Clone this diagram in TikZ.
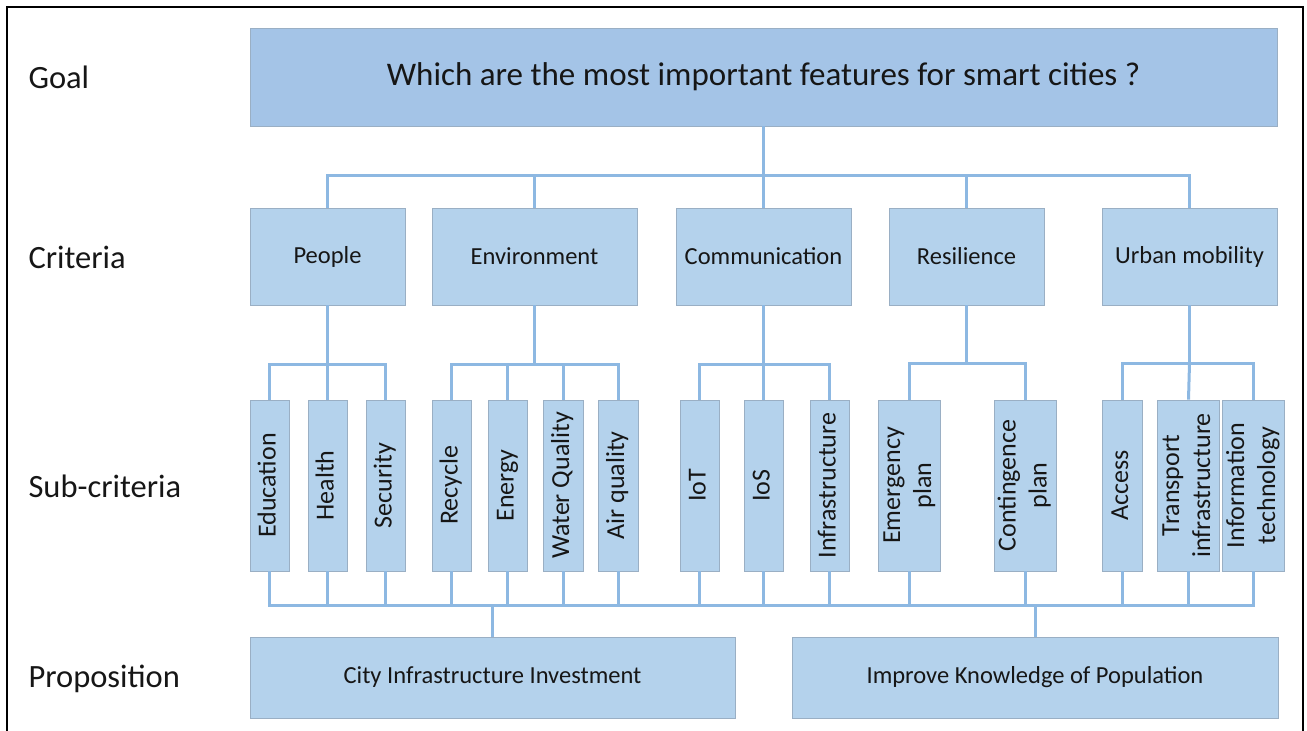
\documentclass[tikz,border=0pt]{standalone}
\usepackage{fontspec}
\setmainfont{Carlito}

\definecolor{goalblue}{HTML}{A4C4E7}
\definecolor{boxblue}{HTML}{B4D2EC}
\definecolor{boxedge}{HTML}{9AAFC4}
\definecolor{linkblue}{HTML}{8DB8E2}
\definecolor{inkgray}{HTML}{161616}

% upright text for the tall sub-criteria boxes
\newcommand{\vlabel}[1]{\rotatebox{90}{\begin{tabular}{@{}c@{}}#1\end{tabular}}}

\begin{document}
\begin{tikzpicture}[x=1pt, y=-1pt,
    level/.style={anchor=west, text=inkgray, font=\fontsize{32.5}{38}\selectfont},
    box/.style={draw=boxedge, line width=0.8pt, fill=boxblue, inner sep=0pt, text=inkgray, font=\fontsize{24.5}{29}\selectfont},
    crit/.style={box, minimum height=97pt},
    sub/.style={box, minimum height=171pt, font=\fontsize{26}{31}\selectfont},
    link/.style={draw=linkblue, line width=3pt}]
    \useasboundingbox (0,0) rectangle (1307,731);
    \draw[line width=2.4pt] (7,731) -- (7,7) -- (1303,7) -- (1303,731);

    % level names
    \node[level] (lgoal) at (25,77) {Goal};
    \node[level] (lcrit) at (25,257) {Criteria};
    \node[level] (lsub) at (25,486) {Sub-criteria};
    \node[level] (lprop) at (25,679) {Proposition};

    % goal and criteria
    \node[box, fill=goalblue, minimum width=1027pt, minimum height=98pt, font=\fontsize{33}{38}\selectfont] (goal) at (763.5,77) {Which are the most important features for smart cities ?};
    \node[crit, minimum width=155pt] (people) at (327.5,256.5) {People};
    \node[crit, minimum width=205pt] (env) at (534.5,256.5) {Environment};
    \node[crit, minimum width=175pt] (comm) at (763.5,256.5) {Communication};
    \node[crit, minimum width=155pt] (resil) at (966.5,256.5) {Resilience};
    \node[crit, minimum width=175pt] (urban) at (1189.5,256.5) {Urban mobility};

    % sub-criteria
    \node[sub, minimum width=39pt] (edu) at (269.5,485.5) {\vlabel{Education}};
    \node[sub, minimum width=39pt] (health) at (327.5,485.5) {\vlabel{Health}};
    \node[sub, minimum width=39pt] (secur) at (385.5,485.5) {\vlabel{Security}};
    \node[sub, minimum width=39pt] (recyc) at (451.5,485.5) {\vlabel{Recycle}};
    \node[sub, minimum width=39pt] (energy) at (507.5,485.5) {\vlabel{Energy}};
    \node[sub, minimum width=40pt] (water) at (563,485.5) {\vlabel{Water Quality}};
    \node[sub, minimum width=40pt] (air) at (618,485.5) {\vlabel{Air quality}};
    \node[sub, minimum width=39pt] (iot) at (699.5,485.5) {\vlabel{IoT}};
    \node[sub, minimum width=39pt] (ios) at (763.5,485.5) {\vlabel{IoS}};
    \node[sub, minimum width=39pt] (infra) at (829.5,485.5) {\vlabel{Infrastructure}};
    \node[sub, minimum width=59pt] (emerg) at (909.5,485.5) {\vlabel{Emergency\\plan}};
    \node[sub, minimum width=58pt] (conting) at (1025,485.5) {\vlabel{Contingence\\plan}};
    \node[sub, minimum width=40pt] (access) at (1122,485.5) {\vlabel{Access}};
    \node[sub, minimum width=59pt] (transp) at (1188.5,485.5) {\vlabel{Transport\\infrastructure}};
    \node[sub, minimum width=53pt] (infotech) at (1253.5,485.5) {\vlabel{Information\\technology}};

    % propositions
    \node[box, minimum width=485pt, minimum height=81pt] (invest) at (492.5,677.5) {City Infrastructure Investment};
    \node[box, minimum width=486pt, minimum height=81pt] (know) at (1035,677.5) {Improve Knowledge of Population};

    % goal to criteria
    \coordinate (gbar) at (763.5,175);
    \draw[link] (goal.south) -- (gbar);
    \draw[link] (gbar) -| (people.north);
    \draw[link] (gbar) -| (env.north);
    \draw[link] (gbar) -- (comm.north);
    \draw[link] (gbar) -| (resil.north);
    \draw[link] (gbar) -| (urban.north);

    % criteria to sub-criteria
    \draw[link] (people.south) -- ++(0,59) coordinate (pb);
    \draw[link] (pb) -| (edu.north);
    \draw[link] (pb) -- (health.north);
    \draw[link] (pb) -| (secur.north);
    \draw[link] (env.south) -- ++(0,59) coordinate (eb);
    \draw[link] (eb) -| (recyc.north);
    \draw[link] (eb) -| (energy.north);
    \draw[link] (eb) -| (water.north);
    \draw[link] (eb) -| (air.north);
    \draw[link] (comm.south) -- ++(0,59) coordinate (cb);
    \draw[link] (cb) -| (iot.north);
    \draw[link] (cb) -- (ios.north);
    \draw[link] (cb) -| (infra.north);
    \draw[link] (resil.south) -- ++(0,58) coordinate (rb);
    \draw[link] (rb) -| (emerg.north);
    \draw[link] (rb) -| (conting.north);
    \draw[link] (urban.south) -- ++(0,58) coordinate (ub);
    \draw[link] (ub) -| (access.north);
    \draw[link] (ub) -- (transp.north);
    \draw[link] (ub) -| (infotech.north);

    % sub-criteria to propositions
    \coordinate (lj) at (492.5,605);
    \coordinate (rj) at (1035,605);
    \draw[link] (edu.south) |- (lj);
    \draw[link] (health.south) |- (lj);
    \draw[link] (secur.south) |- (lj);
    \draw[link] (recyc.south) |- (lj);
    \draw[link] (lj) -- (rj);
    \draw[link] (energy.south) -- (energy.south |- lj);
    \draw[link] (water.south) -- (water.south |- lj);
    \draw[link] (air.south) -- (air.south |- lj);
    \draw[link] (iot.south) -- (iot.south |- lj);
    \draw[link] (ios.south) -- (ios.south |- lj);
    \draw[link] (infra.south) -- (infra.south |- lj);
    \draw[link] (emerg.south) -- (emerg.south |- lj);
    \draw[link] (conting.south) -- (conting.south |- lj);
    \draw[link] (access.south) |- (rj);
    \draw[link] (transp.south) |- (rj);
    \draw[link] (infotech.south) |- (rj);
    \draw[link] (lj) -- (invest.north);
    \draw[link] (rj) -- (know.north);
\end{tikzpicture}
\end{document}
